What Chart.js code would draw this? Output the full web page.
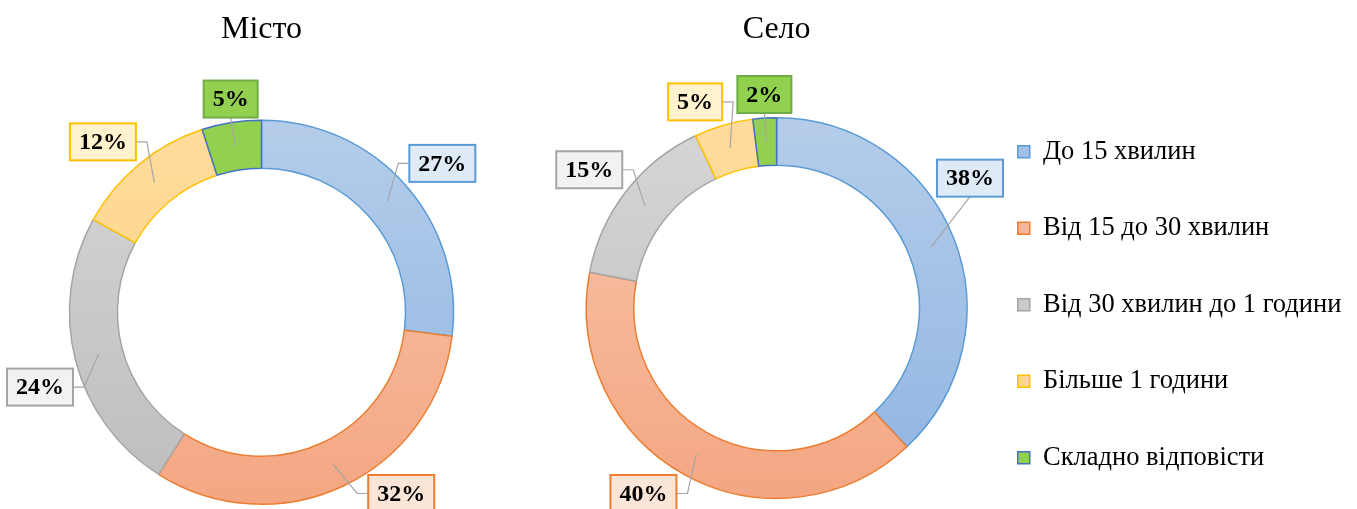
<!DOCTYPE html>
<html>
<head>
<meta charset="utf-8">
<script src="https://cdn.jsdelivr.net/npm/chart.js@4/dist/chart.umd.min.js"></script>
<style>
  html, body { margin: 0; background: #fff; overflow: hidden; }
  .box { position: absolute; top: 0; }
  #leftBox { left: 0; width: 523px; height: 509px; }
  #rightBox { left: 523px; width: 834px; height: 528px; }
</style>
</head>
<body>
<div class="box" id="leftBox"><canvas id="city"></canvas></div>
<div class="box" id="rightBox"><canvas id="village"></canvas></div>
<script>
const categories = ['До 15 хвилин', 'Від 15 до 30 хвилин', 'Від 30 хвилин до 1 години', 'Більше 1 години', 'Складно відповісти']
const cityValues = [27, 32, 24, 12, 5]
const villageValues = [38, 40, 15, 5, 2]

// colours, Excel-ish theme
const gradTop = ['#b5cdea', '#f8c7ad', '#d6d6d6', '#fedc9c', '#92d050']
const gradBottom = ['#8fb4e1', '#f4a682', '#bdbdbd', '#fdd07c', '#92d050']
const solidFill = ['#a3c1e6', '#f6b697', '#cacaca', '#fed68e', '#92d050']
const arcBorder = ['#5b9bd5', '#ed7d31', '#a5a5a5', '#ffc000', '#4472c4']
const labelFill = ['#deebf7', '#fbe5d6', '#f2f2f2', '#fff2cc', '#92d050']
const labelBorder = ['#5b9bd5', '#ed7d31', '#a5a5a5', '#ffc000', '#70ad47']

const serif = '"Liberation Serif", "Times New Roman", serif'

function gradientFill(c) {
  const area = c.chart.chartArea
  if (!area) return solidFill[c.dataIndex]
  const arc = c.chart.getDatasetMeta(0).data[c.dataIndex]
  // gradient over the ring itself, top to bottom
  const cy = arc && arc.y ? arc.y : (area.top + area.bottom) / 2
  const r = arc && arc.outerRadius ? arc.outerRadius : Math.min(area.width, area.height) / 2
  const g = c.chart.ctx.createLinearGradient(0, cy - r, 0, cy + r)
  g.addColorStop(0, gradTop[c.dataIndex])
  g.addColorStop(1, gradBottom[c.dataIndex])
  return g
}

// boxed percentage labels with leader lines
const callouts = {
  id: 'callouts',
  afterDatasetsDraw(chart, args, opts) {
    const ctx = chart.ctx
    const meta = chart.getDatasetMeta(0)
    const values = chart.data.datasets[0].data
    const total = values.reduce((a, b) => a + b, 0)
    const b = opts.bounds
    const placed = []
    ctx.save()
    ctx.font = 'bold 24px ' + serif
    meta.data.forEach((arc, i) => {
      const p = arc.getProps(['x', 'y', 'startAngle', 'endAngle', 'innerRadius', 'outerRadius'], true)
      const mid = (p.startAngle + p.endAngle) / 2
      const ux = Math.cos(mid), uy = Math.sin(mid)
      const text = Math.round(values[i] / total * 100) + '%'
      const w = ctx.measureText(text).width + 18, h = 37
      const rm = (p.innerRadius + p.outerRadius) / 2
      const sx = p.x + ux * rm, sy = p.y + uy * rm

      // the box corner (or bottom/top middle when near vertical) sits just outside the ring
      const r0 = p.outerRadius + opts.gap
      let cx = p.x + ux * r0, cy = p.y + uy * r0 + Math.sign(uy) * h / 2
      if (Math.abs(ux) >= Math.sin(Math.PI / 12)) cx += Math.sign(ux) * w / 2
      const dist = Math.hypot(cx - p.x, cy - p.y)

      const alongY = () => p.y + Math.sign(cy - p.y) * Math.sqrt(Math.max(dist * dist - (cx - p.x) ** 2, 0))
      const alongX = () => p.x + Math.sign(cx - p.x) * Math.sqrt(Math.max(dist * dist - (cy - p.y) ** 2, 0))
      if (cx - w / 2 < b.left) { cx = b.left + w / 2; cy = alongY() }
      if (cx + w / 2 > b.right) { cx = b.right - w / 2; cy = alongY() }
      if (cy + h / 2 > b.bottom) { cy = b.bottom - h / 2; cx = alongX() }
      if (cy - h / 2 < b.top) { cy = b.top + h / 2 }
      placed.forEach(q => {
        if (Math.abs(cx - q.cx) < (w + q.w) / 2 + 4 && Math.abs(cy - q.cy) < (h + q.h) / 2 + 4) {
          const dir = cx >= q.cx ? 1 : -1
          cx = q.cx + dir * ((w + q.w) / 2 + 6)
        }
      })
      placed.push({cx, cy, w, h})

      // leader line
      ctx.strokeStyle = '#a6a6a6'
      ctx.lineWidth = 1.2
      ctx.beginPath()
      ctx.moveTo(sx, sy)
      const edgeDy = sy > cy ? sy - (cy + h / 2) : (cy - h / 2) - sy
      if (Math.abs(sx - cx) < edgeDy) {
        ctx.lineTo(cx, sy > cy ? cy + h / 2 : cy - h / 2)
      } else {
        const edgeX = sx < cx ? cx - w / 2 : cx + w / 2
        ctx.lineTo(edgeX + (sx < cx ? -11 : 11), cy)
        ctx.lineTo(edgeX, cy)
      }
      ctx.stroke()

      ctx.fillStyle = labelFill[i]
      ctx.fillRect(cx - w / 2, cy - h / 2, w, h)
      ctx.strokeStyle = labelBorder[i]
      ctx.lineWidth = 2
      ctx.strokeRect(cx - w / 2, cy - h / 2, w, h)
      ctx.fillStyle = '#000'
      ctx.textAlign = 'center'
      ctx.textBaseline = 'middle'
      ctx.fillText(text, cx, cy + 1)
    })
    ctx.restore()
  }
}

function makeChart(id, title, values, withLegend, titlePad, layoutPad, bounds) {
  return new Chart(document.getElementById(id), {
    type: 'doughnut',
    data: {
      labels: categories,
      datasets: [{
        data: values,
        backgroundColor: gradientFill,
        borderColor: arcBorder,
        borderWidth: 1.5
      }]
    },
    plugins: [callouts],
    options: {
      responsive: true,
      maintainAspectRatio: false,
      animation: false,
      events: [],
      cutout: '75%',
      layout: { padding: layoutPad },
      plugins: {
        title: {
          display: true,
          text: title,
          fullSize: false,
          color: '#000',
          font: { family: serif, size: 32, weight: 'normal' },
          padding: titlePad
        },
        legend: {
          display: withLegend,
          position: 'right',
          align: 'start',
          fullSize: false,
          labels: {
            color: '#000',
            font: { family: serif, size: 26.5 },
            boxWidth: 12,
            boxHeight: 12,
            padding: 50,
            generateLabels: () => categories.map((c, i) => ({
              text: c,
              fillStyle: solidFill[i],
              strokeStyle: arcBorder[i],
              lineWidth: 1.5,
              index: i
            }))
          }
        },
        tooltip: { enabled: false },
        callouts: { gap: 5, bounds }
      }
    }
  })
}

makeChart('city', 'Місто', cityValues, false,
  { top: 10, bottom: 71 }, { bottom: 4 },
  { left: 7, right: 516, top: 75, bottom: 512 })
makeChart('village', 'Село', villageValues, true,
  { top: 10, bottom: 40.1 }, { left: 62.5, right: 7, bottom: 0.5 },
  { left: 7, right: 480, top: 73, bottom: 512 })
</script>
</body>
</html>
